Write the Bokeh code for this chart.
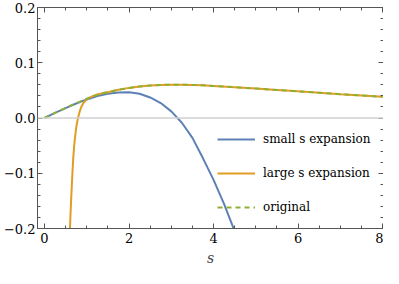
from bokeh.plotting import figure
from bokeh.models import (Range1d, LinearAxis, FixedTicker, Span, Legend, LegendItem,
                          CustomJSTickFormatter)
from bokeh.embed import file_html
from bokeh.resources import INLINE

# ---- data ----
s_orig = [0, 0.25, 0.5, 0.75, 1.0, 1.25, 1.5, 1.75, 2.0, 2.25, 2.5, 2.75, 3.0, 3.25,
          3.5, 3.75, 4.0, 4.5, 5.0, 5.5, 6.0, 6.5, 7.0, 7.5, 8.0]
f_orig = [0, 0.0093, 0.0182, 0.0267, 0.0348, 0.0418, 0.0468, 0.0510, 0.0545, 0.0570,
          0.0588, 0.0598, 0.0603, 0.0603, 0.0599, 0.0591, 0.0580, 0.0557, 0.0533,
          0.0508, 0.0482, 0.0457, 0.0432, 0.0408, 0.0384]

s_small = [0, 0.25, 0.5, 0.75, 1.0, 1.25, 1.5, 1.75, 2.0, 2.25, 2.5, 2.75, 3.0, 3.25,
           3.5, 3.75, 4.0, 4.25, 4.5]
f_small = [0, 0.0092, 0.0180, 0.0262, 0.0336, 0.0398, 0.0440, 0.0463, 0.0466, 0.0440,
           0.0372, 0.0270, 0.0120, -0.0085, -0.0360, -0.0730, -0.1120, -0.1560, -0.2050]

s_large = [0.603, 0.62, 0.644, 0.665, 0.683, 0.70, 0.72, 0.74, 0.76, 0.78, 0.80, 0.83,
           0.87, 0.92, 0.98, 1.05, 1.15, 1.25, 1.4, 1.5, 1.75, 2.0, 2.25, 2.5, 2.75,
           3.0, 3.25, 3.5, 3.75, 4.0, 4.5, 5.0, 5.5, 6.0, 6.5, 7.0, 7.5, 8.0]
f_large = [-0.200, -0.166, -0.126, -0.094, -0.070, -0.053, -0.037, -0.024, -0.013,
           -0.005, 0.002, 0.011, 0.020, 0.027, 0.0325, 0.036, 0.040, 0.0425, 0.0455,
           0.0466, 0.0510, 0.0545, 0.0570, 0.0588, 0.0598, 0.0603, 0.0603, 0.0599,
           0.0591, 0.0580, 0.0557, 0.0533, 0.0508, 0.0482, 0.0457, 0.0432, 0.0408, 0.0384]

x_ticks = [0, 2, 4, 6, 8]
x_tick_labels = ["0", "2", "4", "6", "8"]
y_ticks = [-0.2, -0.1, 0.0, 0.1, 0.2]
y_tick_labels = ["\u22120.2", "\u22120.1", "0.0", "0.1", "0.2"]
legend_labels = ["small s expansion", "large s expansion", "original"]

BLUE = "#5E81B5"
ORANGE = "#E19C24"
GREEN = "#8FB032"
FRAME = "#555555"
FONT = "DejaVu Serif"

p = figure(width=383, height=268, output_backend="svg", toolbar_location=None,
           x_range=Range1d(-0.165, 8.02), y_range=Range1d(-0.2, 0.2),
           x_axis_location=None, y_axis_location=None,
           min_border_left=28, min_border_right=0, min_border_top=7, min_border_bottom=40)
p.outline_line_color = None
p.xgrid.visible = False
p.ygrid.visible = False
p.background_fill_color = "white"
p.border_fill_color = "white"

x_minor = [i * 0.5 for i in range(-1, 18)]
y_minor = [round(-0.2 + i * 0.02, 4) for i in range(21)]


def style(ax, ticker, labels=None):
    ax.ticker = ticker
    ax.axis_line_color = FRAME
    ax.axis_line_width = 1
    ax.major_tick_line_color = FRAME
    ax.minor_tick_line_color = FRAME
    ax.major_tick_in = 5
    ax.major_tick_out = 0
    ax.minor_tick_in = 3
    ax.minor_tick_out = 0
    ax.major_label_text_font = FONT
    ax.major_label_text_font_size = "13px"
    ax.major_label_text_color = "black"
    if labels is not None:
        ax.major_label_overrides = labels
    else:
        ax.formatter = CustomJSTickFormatter(code="return ''")
        ax.major_label_standoff = 0


xt = FixedTicker(ticks=x_ticks, minor_ticks=x_minor)
yt = FixedTicker(ticks=y_ticks, minor_ticks=y_minor)

xb = LinearAxis()
style(xb, xt, {t: l for t, l in zip(x_ticks, x_tick_labels)})
xb.major_label_standoff = 4
xb.axis_label = "s"
xb.axis_label_text_font = FONT
xb.axis_label_text_font_style = "italic"
xb.axis_label_text_font_size = "14px"
xb.axis_label_standoff = 4
p.add_layout(xb, "below")

yl = LinearAxis()
style(yl, yt, {t: l for t, l in zip(y_ticks, y_tick_labels)})
yl.major_label_standoff = 2
p.add_layout(yl, "left")

xa = LinearAxis()
style(xa, FixedTicker(ticks=x_ticks, minor_ticks=x_minor))
p.add_layout(xa, "above")

yr = LinearAxis()
style(yr, FixedTicker(ticks=y_ticks, minor_ticks=y_minor))
p.add_layout(yr, "right")

p.add_layout(Span(location=0, dimension="width", line_color="#d0d0d0", line_width=1.3))

r_small = p.line(s_small, f_small, line_color=BLUE, line_width=2)
r_large = p.line(s_large, f_large, line_color=ORANGE, line_width=2)
r_orig = p.line(s_orig, f_orig, line_color=GREEN, line_width=2, line_dash="5 4")

legend = Legend(items=[LegendItem(label=legend_labels[0], renderers=[r_small]),
                       LegendItem(label=legend_labels[1], renderers=[r_large]),
                       LegendItem(label=legend_labels[2], renderers=[r_orig])],
                location=(180, 11), orientation="vertical")
legend.border_line_color = None
legend.background_fill_alpha = 0
legend.padding = 0
legend.margin = 0
legend.glyph_width = 38
legend.glyph_height = 20
legend.label_height = 20
legend.spacing = 14
legend.label_standoff = 8
legend.label_text_font = FONT
legend.label_text_font_size = "12px"
legend.label_text_color = "black"
p.add_layout(legend, "center")

open("out.html", "w").write(file_html(p, INLINE))
